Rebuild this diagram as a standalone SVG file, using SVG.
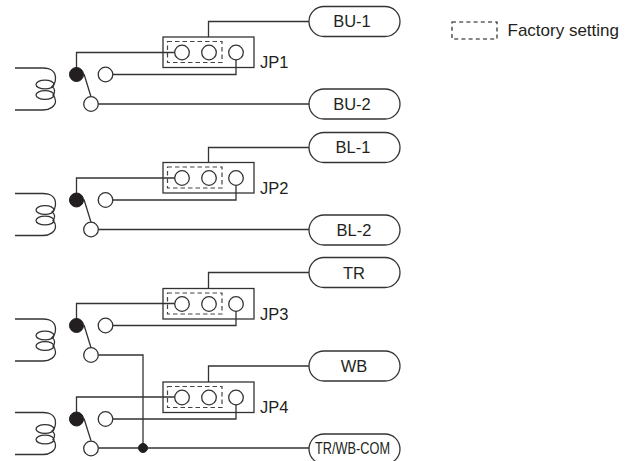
<svg xmlns="http://www.w3.org/2000/svg" xmlns:xlink="http://www.w3.org/1999/xlink" width="634" height="461" viewBox="0 0 634 461">
<style>
.w{fill:none;stroke:#333;stroke-width:1.3}
.c{fill:#fff;stroke:#333;stroke-width:1.3}
.d{fill:none;stroke:#444;stroke-width:1.2;stroke-dasharray:4.5 3}
.e{fill:none;stroke:#111;stroke-width:1.1;stroke-dasharray:4 3.2}
.k{fill:#231f20;stroke:#231f20;stroke-width:1}
.t{font-family:"Liberation Sans",Arial,sans-serif;font-size:16.5px;fill:#231f20}
.m{text-anchor:middle}
</style>
<defs>
<g id="jumper">
<rect class="w" x="163" y="37" width="91" height="30.5"/>
<rect class="d" x="167.500" y="41.500" width="54.500" height="21"/>
<circle class="c" cx="182" cy="52.500" r="7.300"/>
<circle class="c" cx="209" cy="52.500" r="7.300"/>
<circle class="c" cx="236" cy="52.500" r="7.300"/>
</g>
<g id="relay">
<path class="w" d="M15 68H43C51 68 55.500 72 55.500 78C55.500 82 54 85 52 86.500C55 88.500 55.500 92 53 95C55 97 55.500 99 55.500 101C55.500 106 50 110 43 110H15"/>
<ellipse class="w" cx="45" cy="84.500" rx="9" ry="4.300"/>
<ellipse class="w" cx="45" cy="95" rx="9" ry="4.300"/>
<circle class="k" cx="76.500" cy="74.500" r="7"/>
<circle class="c" cx="105.500" cy="74.500" r="7.300"/>
<circle class="c" cx="91" cy="104" r="7.300"/>
</g>
</defs>
<g id="connectors">
<path class="w" d="M208.500 37V21.500H309M76.500 68V52.500H174.700M112.800 74.500H236V59.800M84 74L91 96.700M98.300 104H309"/>
<path class="w" d="M208.500 163V147.500H309M76.500 194V178H174.700M112.800 200H236V185.300M84 199.500L91 222.200M98.300 229.500H309"/>
<path class="w" d="M208.500 289V272.500H309M76.500 319V303.500H174.700M112.800 325.500H236V311M84 325L91 347.700M98.300 355H143V448M208.500 382V366H309M76.500 412V397H174.700M112.800 419H236V404.500M84 418.500L91 440.700M98.300 448H309"/>
<circle class="k" cx="143" cy="448" r="4.500"/>
</g>
<g id="relay1"><use xlink:href="#relay"/></g>
<g id="relay2"><use xlink:href="#relay" y="125.500"/></g>
<g id="relay3"><use xlink:href="#relay" y="251"/></g>
<g id="relay4"><use xlink:href="#relay" y="344.500"/></g>
<g id="jp1"><use xlink:href="#jumper"/><text class="t" x="260" y="68">JP1</text></g>
<g id="jp2"><use xlink:href="#jumper" y="125.500"/><text class="t" x="260" y="193.500">JP2</text></g>
<g id="jp3"><use xlink:href="#jumper" y="251.500"/><text class="t" x="260" y="319.500">JP3</text></g>
<g id="jp4"><use xlink:href="#jumper" y="345"/><text class="t" x="260" y="413">JP4</text></g>
<g id="bu1"><rect class="c" x="309" y="6.500" width="91" height="30" rx="15"/><text class="t m" x="352" y="27">BU-1</text></g>
<g id="bu2"><rect class="c" x="309" y="89" width="91" height="30" rx="15"/><text class="t m" x="352" y="109.500">BU-2</text></g>
<g id="bl1"><rect class="c" x="309" y="132.500" width="91" height="30" rx="15"/><text class="t m" x="353" y="153">BL-1</text></g>
<g id="bl2"><rect class="c" x="309" y="215" width="91" height="30" rx="15"/><text class="t m" x="354" y="236">BL-2</text></g>
<g id="tr"><rect class="c" x="309" y="257.500" width="91" height="30" rx="15"/><text class="t m" x="354" y="279">TR</text></g>
<g id="wb"><rect class="c" x="309" y="351" width="91" height="30" rx="15"/><text class="t m" x="354" y="372">WB</text></g>
<g id="com"><rect class="c" x="309" y="434" width="91" height="30" rx="15"/><text class="t" x="315" y="454" textLength="75" lengthAdjust="spacingAndGlyphs">TR/WB-COM</text></g>
<g id="legend"><rect class="e" x="452" y="22" width="45" height="17"/><text class="t" style="font-size:17px" x="507.500" y="36">Factory setting</text></g>
</svg>
